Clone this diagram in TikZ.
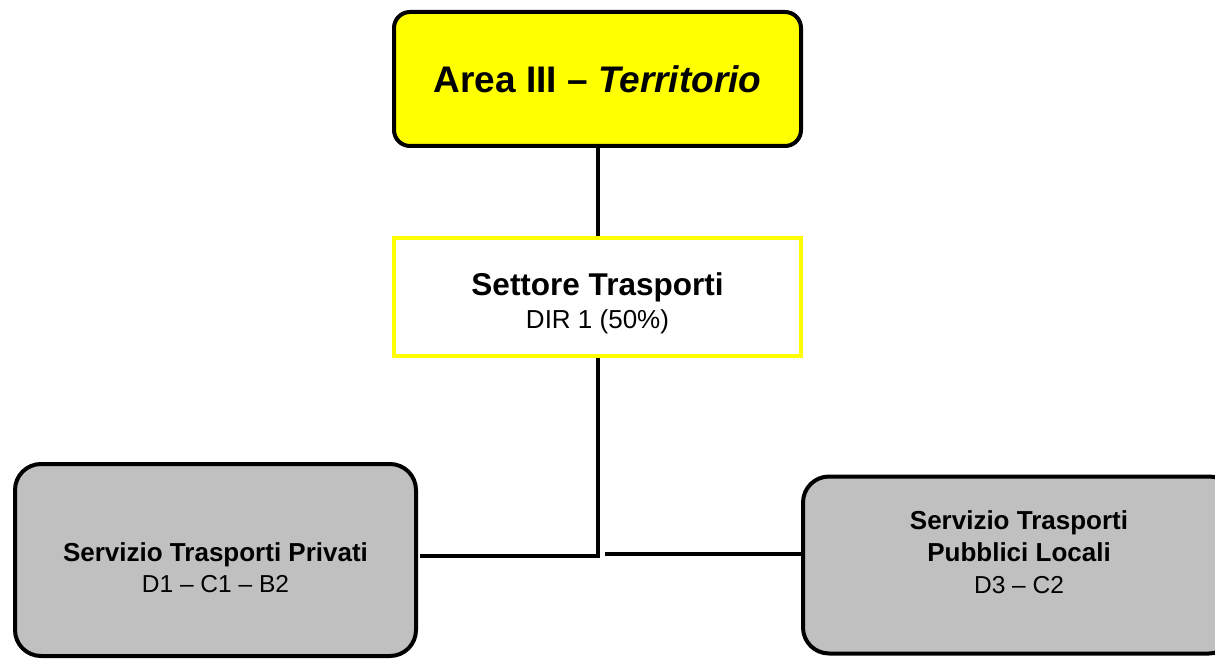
\documentclass[tikz,border=0pt]{standalone}
\usepackage{fontspec}
\setmainfont{Liberation Sans}

\definecolor{areayellow}{HTML}{FFFF00}
\definecolor{servgray}{HTML}{C0C0C0}

\begin{document}
\begin{tikzpicture}[x=1pt,y=-1pt,
  box/.style={line width=4pt, inner sep=0pt, align=center},
  link/.style={line width=4pt}]
\useasboundingbox (0,0) rectangle (1215,660);
\clip (0,0) rectangle (1215,660);

\node[box, draw=black, fill=areayellow, rounded corners=16pt, minimum width=407pt, minimum height=134pt,
  font=\bfseries\fontsize{37}{44}\selectfont] (area) at (597.5,79) {Area III – \textit{Territorio}};

\node[box, draw=areayellow, fill=white, minimum width=407pt, minimum height=118pt,
  font=\fontsize{26}{33}\selectfont] (settore) at (597.5,297)
  {{\bfseries\fontsize{31.5}{33}\selectfont Settore Trasporti}\rule{0pt}{36pt}\\DIR 1 (50\%)};

\node[box, draw=black, fill=servgray, rounded corners=26pt, minimum width=401pt, minimum height=192pt,
  font=\fontsize{24.5}{31}\selectfont] (privati) at (215.5,560)
  {{\bfseries\fontsize{26}{31}\selectfont Servizio Trasporti Privati}\rule{0pt}{34pt}\\D1 – C1 – B2};

\node[box, draw=black, fill=servgray, rounded corners=26pt, minimum width=432pt, minimum height=177pt,
  font=\fontsize{24.5}{32}\selectfont] (pubblici) at (1019,565)
  {{\bfseries\fontsize{26}{32}\selectfont Servizio Trasporti}\\{\bfseries\fontsize{26}{32}\selectfont Pubblici Locali}\\D3 – C2\rule[-25pt]{0pt}{0pt}};

\coordinate (jl) at (420,556);
\coordinate (jr) at (605,554);

\draw[link] (area) -- (settore);
\draw[link] (settore) |- (jl);
\draw[link] (jr) -- (pubblici.west |- jr);
\end{tikzpicture}
\end{document}
